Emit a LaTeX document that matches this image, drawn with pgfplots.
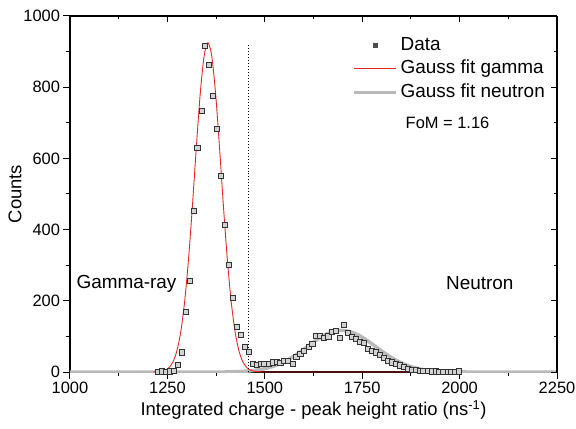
\documentclass[border=0pt]{standalone}
\usepackage{fontspec}
\setmainfont{Liberation Sans}
\usepackage{pgfplots}
\pgfplotsset{compat=1.18}
\usetikzlibrary{calc}
\definecolor{fitred}{RGB}{226,40,40}
\definecolor{fitgray}{RGB}{185,185,185}
\begin{document}
\begin{tikzpicture}
\pgfplotsset{
  every axis/.append style={scale only axis, width=487bp, height=356bp,
    xmin=1000, xmax=2250, ymin=0, ymax=1000,
    xtick={1000,1250,...,2250}, ytick={0,200,...,1000},
    minor x tick num=1, minor y tick num=1,
    major tick length=6.5bp, minor tick length=3.5bp,
    every tick/.style={black, line width=1bp},
    axis line style={line width=1.3bp},
    /pgf/number format/assume math mode=true,
    /pgf/number format/1000 sep={},
    tick label style={font=\fontsize{16.5}{19}\selectfont},
  }
}
\begin{axis}[name=ax,
  axis x line*=bottom, axis y line*=left, tick align=outside,
  xlabel={Integrated charge - peak height ratio (ns\textsuperscript{-1})},
  ylabel={Counts},
  label style={font=\fontsize{18.5}{22}\selectfont},
  xlabel style={yshift=0bp},
  ylabel style={yshift=-5bp},
  legend style={at={(axis cs:1725,951)}, anchor=north west, draw=none, fill=none,
    inner sep=0pt, row sep=0pt,
    font=\fontsize{19}{23}\selectfont,
    nodes={text height=14bp, text depth=4.5bp, inner sep=2.5bp}},
  legend cell align=left,
  legend image code/.code={\draw[mark repeat=2,mark phase=2,#1] plot coordinates {(0bp,0bp) (21bp,0bp) (42bp,0bp)};},
]
\addlegendimage{only marks, mark=square*, mark size=2.2bp, black!70}
\addlegendimage{fitred, line width=0.9bp}
\addlegendimage{fitgray, line width=3.5bp}
\legend{Data, Gauss fit gamma, Gauss fit neutron}

% neutron Gauss fit
\addplot[fitgray, line width=3.5bp, smooth, forget plot] coordinates {
(1000,0)(1397,0)(1417,0.7)(1437,1.5)(1457,2.8)(1477,5.1)(1497,8.8)(1517,14.4)(1537,22.4)
(1557,33.0)(1577,46.2)(1597,61.3)(1617,77.4)(1637,92.7)(1657,105.5)(1677,114.0)
(1697,117)(1717,114.0)(1737,105.5)(1757,92.7)(1777,77.4)(1797,61.3)(1817,46.2)
(1837,33.0)(1857,22.4)(1877,14.4)(1897,8.8)(1917,5.1)(1937,2.8)(1957,1.5)(1977,0.7)
(1997,0.3)(2017,0)(2250,0)};

% gamma Gauss fit
\addplot[fitred, line width=0.9bp, smooth, forget plot] coordinates {
(1214,0)(1224,0.6)(1234,1.8)(1244,4.9)(1254,12.2)(1264,27.9)(1274,58)(1284,111)(1294,195)
(1304,314)(1314,463)(1324,627)(1334,778)(1344,886)(1354,925)(1364,886)(1374,778)
(1384,627)(1394,463)(1404,314)(1414,195)(1424,111)(1434,58)(1444,27.9)(1454,12.2)
(1464,4.9)(1474,1.8)(1484,0.6)(1494,0.2)(1504,0)(1930,0)};

% separation line
\addplot[black, dotted, line width=1bp, forget plot] coordinates {(1458,0) (1458,922)};

% data
\addplot[only marks, mark=square*, mark size=2.6bp,
  mark options={draw=black!80, fill=gray!35, line width=0.65bp}, forget plot] coordinates {
(1225,1)(1235,2)(1245,1)(1256,2)(1266,4)(1276,21)(1287,55)(1297,168)(1308,256)(1317,452)
(1327,630)(1338,733)(1347,917)(1357,863)(1366,776)(1376,682)(1387,552)(1397,413)
(1407,300)(1418,209)(1428,127)(1438,104)(1448,71)(1458,57)(1469,24)
(1479,20)(1489,22)(1499,23)(1510,24)(1520,27)(1530,29)(1540,25)(1550,31)(1560,32)
(1571,24)(1581,43)(1591,52)(1601,60)(1612,70)(1622,80)(1632,102)(1642,101)(1652,95)
(1663,100)(1673,112)(1683,116)(1693,95)(1703,132)(1714,109)(1724,99)(1734,93)
(1744,85)(1754,81)(1765,66)(1775,60)(1785,55)(1795,48)(1805,40)(1816,32)(1826,27)
(1836,23)(1846,19)(1856,15)(1867,10)(1877,6)(1887,5)(1897,4)(1907,4)(1918,3)
(1928,2)(1938,2)(1948,1)(1958,1)(1969,0)(1979,1)(1989,0)(1999,2)};

\node[font=\fontsize{19}{23}\selectfont] at (axis cs:1145,247) {Gamma-ray};
\node[font=\fontsize{19}{23}\selectfont] at (axis cs:2052,250) {Neutron};
\node[font=\fontsize{16.5}{20}\selectfont] at (axis cs:1969,699) {FoM = 1.16};
\end{axis}
\begin{axis}[axis x line*=top, axis y line*=right, tick align=inside,
  xticklabels={}, yticklabels={}]
\end{axis}
\pgfresetboundingbox
\path ($(ax.south west)+(-70bp,-57bp)$) rectangle ($(ax.north east)+(19bp,16bp)$);
\end{tikzpicture}
\end{document}
